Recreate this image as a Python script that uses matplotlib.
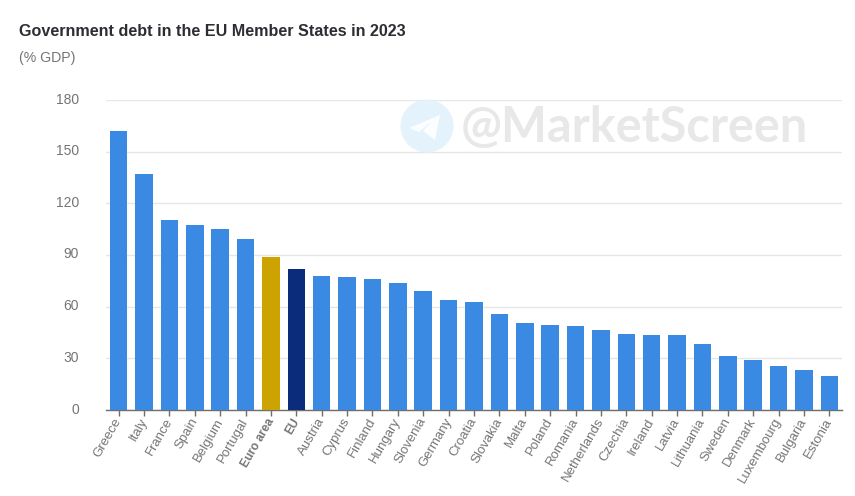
import matplotlib
matplotlib.use("Agg")
import matplotlib.pyplot as plt
from matplotlib.patches import Circle, Polygon
from matplotlib.transforms import ScaledTranslation

plt.rcParams['font.family'] = ['Liberation Sans', 'DejaVu Sans']

countries = ["Greece", "Italy", "France", "Spain", "Belgium", "Portugal", "Euro area", "EU",
             "Austria", "Cyprus", "Finland", "Hungary", "Slovenia", "Germany", "Croatia",
             "Slovakia", "Malta", "Poland", "Romania", "Netherlands", "Czechia", "Ireland",
             "Latvia", "Lithuania", "Sweden", "Denmark", "Luxembourg", "Bulgaria", "Estonia"]
debt = [162.0, 137.3, 110.6, 107.7, 105.0, 99.1, 88.6, 81.9,
        77.8, 77.3, 75.8, 73.5, 69.2, 63.6, 63.0,
        56.0, 50.4, 49.6, 48.8, 46.5, 44.0, 43.7,
        43.6, 38.3, 31.2, 29.3, 25.7, 23.1, 19.6]
yticks = [0, 30, 60, 90, 120, 150, 180]

W, H = 855, 496
BLUE = "#3a89e3"
colors = {"Euro area": "#cca300", "EU": "#0a2c7a"}
bar_colors = [colors.get(c, BLUE) for c in countries]

fig = plt.figure(figsize=(W / 100, H / 100), dpi=100)
fig.patch.set_facecolor("white")
# axes box in pixels: x 106-842, y 100-410
ax = fig.add_axes([106 / W, 1 - 410 / H, 736 / W, 310 / H])

# watermark sits behind the chart, in pixel coordinates
fig.patches.append(Circle((427, H - 126), 26.5, transform=None, fc="#e4f2fb", ec="none", zorder=0))
fig.patches.append(Polygon([(409, H - 128), (440, H - 115), (435, H - 140), (423, H - 131), (431, H - 122), (419, H - 132)],
                           closed=True, transform=None, fc="#fbfdff", ec="none", zorder=0))
fig.text(461 / W, 1 - 127 / H, "@MarketScreen", family="Lato", fontweight="bold", fontsize=35,
         color="#e8e8e8", va="center", ha="left", zorder=0)

ax.patch.set_alpha(0)
ax.bar(range(len(countries)), debt, width=0.69, color=bar_colors, zorder=3)

ax.set_xlim(-0.5, len(countries) - 0.5)
ax.set_ylim(0, 180)
ax.set_yticks(yticks)
ax.grid(axis="y", color="#e6e6e6", linewidth=1, zorder=0)
ax.set_axisbelow(True)
for s in ["top", "right", "left"]:
    ax.spines[s].set_visible(False)
ax.spines["bottom"].set_color("#6e6e6e")
ax.spines["bottom"].set_linewidth(1)

ax.tick_params(axis="y", length=0, labelsize=10, labelcolor="#757575", pad=19.4)
ax.tick_params(axis="x", length=4, width=1, color="#6e6e6e", pad=1)
ax.set_xticks(range(len(countries)))
ax.set_xticklabels(countries, rotation=60, ha="right", rotation_mode="anchor",
                   fontsize=9.5, color="#757575")

x_shift = ScaledTranslation(-5 / 100, 1 / 100, fig.dpi_scale_trans)
y_shift = ScaledTranslation(0, 2 / 100, fig.dpi_scale_trans)
for lab in ax.get_xticklabels():
    lab.set_transform(lab.get_transform() + x_shift)
    if lab.get_text() in colors:
        lab.set_fontweight("bold")
        lab.set_fontsize(8.6)
for lab in ax.get_yticklabels():
    lab.set_transform(lab.get_transform() + y_shift)

fig.text(19 / W, 1 - 31 / H, "Government debt in the EU Member States in 2023", fontsize=11.65,
         fontweight="bold", color="#2d2d33", va="center", ha="left")
fig.text(19 / W, 1 - 58 / H, "(% GDP)", fontsize=10.2, color="#757575", va="center", ha="left")

fig.savefig("out.png", dpi=100)
